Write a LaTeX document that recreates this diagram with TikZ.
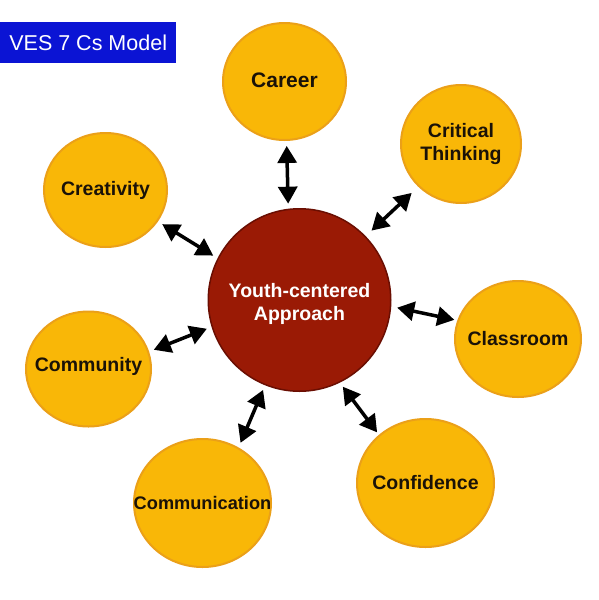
\documentclass[tikz,border=0pt]{standalone}
\usepackage{fontspec}
\setmainfont{Liberation Sans}
\usetikzlibrary{shapes.geometric,arrows.meta}
\definecolor{satfill}{HTML}{F9B707}
\definecolor{satdraw}{HTML}{EBA018}
\definecolor{sattext}{HTML}{1A1208}
\definecolor{hubfill}{HTML}{9A1A05}
\definecolor{hubdraw}{HTML}{6A0E02}
\definecolor{titleblue}{HTML}{0B14D4}
\begin{document}
\begin{tikzpicture}[x=1pt,y=-1pt,
  satnode/.style={ellipse, fill=satfill, draw=satdraw, line width=2pt, inner sep=0pt},
  sattxt/.style={align=center, text=sattext, inner sep=0pt, font=\bfseries\fontsize{19.5}{23}\selectfont},
  hubnode/.style={circle, fill=hubfill, draw=hubdraw, line width=1.5pt, inner sep=0pt,
    minimum size=182.5pt},
  hubtxt/.style={align=center, text=white, inner sep=0pt, yshift=-3.5pt, font=\bfseries\fontsize{19.5}{23}\selectfont},
  titlebox/.style={rectangle, fill=titleblue, text=white, inner sep=0pt,
    minimum width=176pt, minimum height=41pt, font=\fontsize{21.5}{24}\selectfont},
  biarrow/.style={line width=3.5pt, black, {Triangle[length=17pt,width=19pt]}-{Triangle[length=17pt,width=19pt]},
    shorten <=5pt, shorten >=5pt}]
\useasboundingbox (0,0) rectangle (599,600);
\fill[white] (0,0) rectangle (599,600);

\node[titlebox, anchor=north west] (title) at (0,22) {VES 7 Cs Model};

\node[hubnode, label={[hubtxt]center:Youth-centered\\Approach}] (hub) at (299.5,300) {};

\node[satnode, minimum width=123pt, minimum height=117pt,
  label={[sattxt, font=\bfseries\fontsize{21}{24}\selectfont, yshift=1pt]center:Career}] (career) at (284.5,81.5) {};
\node[satnode, minimum width=120pt, minimum height=118pt,
  label={[sattxt]center:Critical\\Thinking}] (critical) at (461,144) {};
\node[satnode, minimum width=123pt, minimum height=114pt,
  label={[sattxt]center:Creativity}] (creativity) at (105.5,190) {};
\node[satnode, minimum width=126pt, minimum height=116pt,
  label={[sattxt]center:Classroom}] (classroom) at (518,339) {};
\node[satnode, minimum width=125pt, minimum height=115pt,
  label={[sattxt, yshift=3pt]center:Community}] (community) at (88.5,369) {};
\node[satnode, minimum width=137pt, minimum height=128pt,
  label={[sattxt, font=\bfseries\fontsize{18.2}{22}\selectfont]center:Communication}] (communication) at (202.5,503) {};
\node[satnode, minimum width=137pt, minimum height=128pt,
  label={[sattxt]center:Confidence}] (confidence) at (425.5,483) {};

\draw[biarrow] (hub.97) -- (career.-88);
\draw[biarrow, shorten <=8pt, shorten >=9pt] (hub.44) -- (critical.225);
\draw[biarrow] (hub.153.6) -- (creativity.-31);
\draw[biarrow, shorten <=6pt, shorten >=3pt] (hub.-4.6) -- (classroom.163.5);
\draw[biarrow] (hub.197.4) -- (community.16.8);
\draw[biarrow] (hub.248) -- (communication.57);
\draw[biarrow, shorten >=3pt] (hub.-64.2) -- (confidence.134);
\end{tikzpicture}
\end{document}
